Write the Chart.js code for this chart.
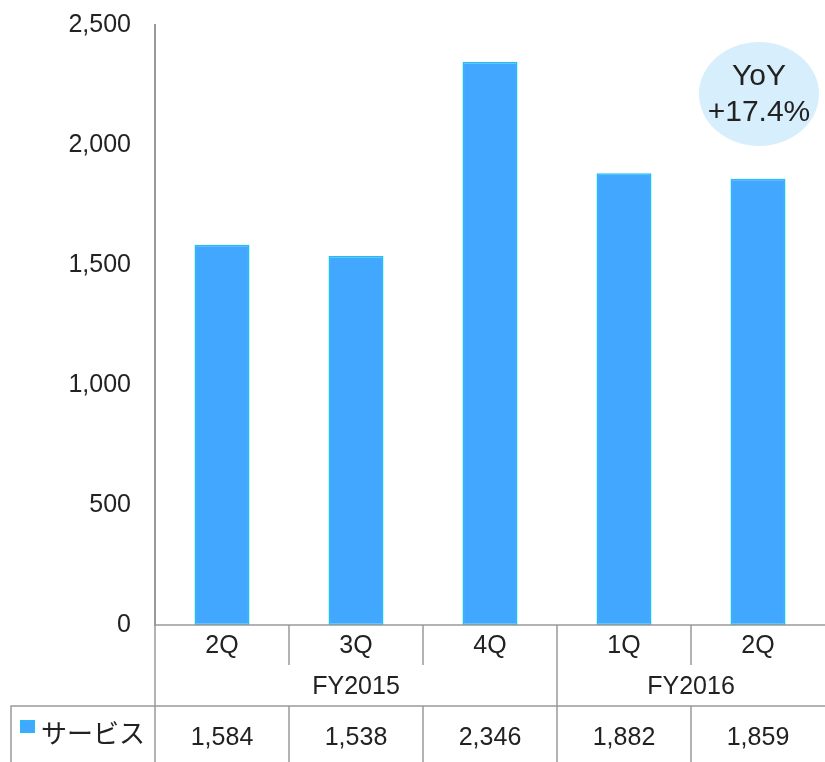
<!DOCTYPE html>
<html>
<head>
<meta charset="utf-8">
<script src="https://cdn.jsdelivr.net/npm/chart.js@4/dist/chart.umd.min.js"></script>
<style>
  html, body { margin: 0; padding: 0; background: #fff; }
  #wrap { width: 825px; height: 762px; }
</style>
</head>
<body>
<div id="wrap"><canvas id="myChart" width="825" height="762"></canvas></div>
<script>
const quarters = ["2Q", "3Q", "4Q", "1Q", "2Q"];
const fiscalYears = ["FY2015", "FY2016"];
const fiscalYearSpans = [3, 2];
const seriesName = "サービス";
const serviceValues = [1584, 1538, 2346, 1882, 1859];
const yMin = 0;
const yMax = 2500;
const yStep = 500;
const yoyLines = ["YoY", "+17.4%"];

const FONT = "'Liberation Sans', 'Noto Sans CJK JP', sans-serif";
const LINE = "#9a9a9a";

const tablePlugin = {
  id: "dataTable",
  afterDraw(chart) {
    const ctx = chart.ctx;
    const x = chart.scales.x;
    const area = chart.chartArea;
    const n = quarters.length;
    const cw = (area.right - area.left) / n;
    const top = area.bottom;
    const row1 = top + 40;
    const row2 = top + 81;
    const bottom = chart.height;

    ctx.save();
    ctx.strokeStyle = LINE;
    ctx.lineWidth = 1.5;
    ctx.beginPath();
    // x axis line
    ctx.moveTo(area.left, top);
    ctx.lineTo(area.right, top);
    // line above data row + left edge of legend cell
    ctx.moveTo(11, bottom);
    ctx.lineTo(11, row2);
    ctx.lineTo(area.right, row2);

    let boundary = 0;
    const yearEdges = [0];
    fiscalYearSpans.forEach(s => { boundary += s; yearEdges.push(boundary); });

    for (let i = 0; i < n; i++) {
      const bx = x.getPixelForValue(i) - cw / 2;
      if (yearEdges.includes(i)) {
        ctx.moveTo(bx, top);
        ctx.lineTo(bx, bottom);
      } else {
        ctx.moveTo(bx, top);
        ctx.lineTo(bx, row1);
        ctx.moveTo(bx, row2);
        ctx.lineTo(bx, bottom);
      }
    }
    ctx.stroke();

    ctx.fillStyle = "#222";
    ctx.textAlign = "center";
    ctx.textBaseline = "middle";
    ctx.font = "25px " + FONT;
    quarters.forEach((q, i) => {
      ctx.fillText(q, x.getPixelForValue(i), top + 21);
    });

    let start = 0;
    fiscalYears.forEach((fy, j) => {
      const end = start + fiscalYearSpans[j] - 1;
      const cx = (x.getPixelForValue(start) + x.getPixelForValue(end)) / 2;
      ctx.fillText(fy, cx, top + 62);
      start += fiscalYearSpans[j];
    });

    serviceValues.forEach((v, i) => {
      ctx.fillText(v.toLocaleString("en-US"), x.getPixelForValue(i), row2 + 32);
    });

    // legend cell
    const ds = chart.data.datasets[0];
    ctx.fillStyle = ds.backgroundColor;
    ctx.fillRect(20, row2 + 14, 15, 13);
    ctx.strokeStyle = ds.borderColor;
    ctx.lineWidth = 1;
    ctx.strokeRect(20.5, row2 + 14.5, 14, 12);
    ctx.fillStyle = "#222";
    ctx.textAlign = "left";
    ctx.font = "26px 'Noto Sans CJK JP', sans-serif";
    ctx.fillText(seriesName, 41, row2 + 27);

    // YoY bubble
    ctx.fillStyle = "#d7eefc";
    ctx.beginPath();
    ctx.ellipse(759, 94, 60, 52, 0, 0, Math.PI * 2);
    ctx.fill();
    ctx.fillStyle = "#222";
    ctx.textAlign = "center";
    ctx.font = "30px " + FONT;
    ctx.fillText(yoyLines[0], 759, 77);
    ctx.fillText(yoyLines[1], 759, 113);
    ctx.restore();
  }
};

const ctx = document.getElementById("myChart").getContext("2d");
const chart = new Chart(ctx, {
  type: "bar",
  data: {
    labels: quarters,
    datasets: [
      {
        label: seriesName,
        data: serviceValues,
        backgroundColor: "#42a8ff",
        borderColor: "#1cc0f2",
        borderWidth: 1.5,
        borderSkipped: false,
        categoryPercentage: 1,
        barPercentage: 0.41
      }
    ]
  },
  options: {
    responsive: false,
    animation: false,
    layout: { padding: { top: 25, right: 0, bottom: 137, left: 0 } },
    plugins: { legend: { display: false }, tooltip: { enabled: false } },
    scales: {
      x: {
        display: false
      },
      y: {
        min: yMin,
        max: yMax,
        ticks: {
          stepSize: yStep,
          color: "#222",
          padding: 24,
          font: { family: FONT, size: 25 },
          callback: (v) => v.toLocaleString("en-US")
        },
        grid: { display: false, drawTicks: false },
        border: { display: true, color: LINE, width: 2 },
        afterFit: (s) => {
          s.width = 155;
          s.paddingTop = 0;
          s.paddingBottom = 0;
        }
      }
    }
  },
  plugins: [tablePlugin]
});
</script>
</body>
</html>
